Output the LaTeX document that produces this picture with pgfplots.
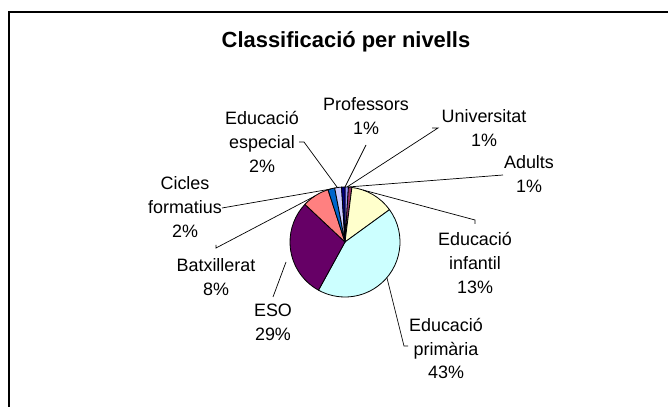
\documentclass[border=0pt]{standalone}
\usepackage{fontspec}
\setmainfont{Liberation Sans}
\usepackage{pgfplots}
\usepackage{pgfplotstable}
\pgfplotsset{compat=1.18}

% slice colours, clockwise from 12 o'clock
\definecolor{c0}{HTML}{9999FF}
\definecolor{c1}{HTML}{993366}
\definecolor{c2}{HTML}{FFFFCC}
\definecolor{c3}{HTML}{CCFFFF}
\definecolor{c4}{HTML}{660066}
\definecolor{c5}{HTML}{FF8080}
\definecolor{c6}{HTML}{0066CC}
\definecolor{c7}{HTML}{CCCCFF}
\definecolor{c8}{HTML}{000080}

\pgfplotstableread{
name pct
Universitat 1
Adults 1
Infantil 13
Primaria 43
ESO 29
Batxillerat 8
Cicles 2
Especial 2
Professors 1
}\piedata

% start / end angle of every slice
\xdef\cum{0}
\pgfplotstableforeachcolumnelement{pct}\of\piedata\as\val{%
  \pgfmathsetmacro\a{90-3.6*\cum}%
  \pgfmathsetmacro\tmp{\cum+\val}\xdef\cum{\tmp}%
  \pgfmathsetmacro\b{90-3.6*\cum}%
  \expandafter\xdef\csname sa\pgfplotstablerow\endcsname{\a}%
  \expandafter\xdef\csname ea\pgfplotstablerow\endcsname{\b}%
}

\begin{document}
\begin{tikzpicture}[lbl/.style={align=center, font=\fontsize{18}{24}\selectfont, inner sep=0pt}]
\begin{axis}[
  scale only axis, width=668bp, height=407bp,
  xmin=0, xmax=668, ymin=0, ymax=407,
  hide axis, clip=false,
]
\fill[white] (axis cs:0,0) rectangle (axis cs:668,407);
\draw[line width=2bp] (axis cs:9,0) -- (axis cs:9,395) -- (axis cs:668,395);

\node[font=\bfseries\fontsize{22}{26}\selectfont] at (axis cs:346,365) {Classificació per nivells};

\pgfplotsinvokeforeach{0,...,8}{
  \filldraw[fill=c#1, draw=black, line width=0.8bp, line join=round]
    (axis cs:345,165) -- ++(\csname sa#1\endcsname:55bp)
    arc[start angle=\csname sa#1\endcsname, end angle=\csname ea#1\endcsname, radius=55bp] -- cycle;
}

% leader lines
\draw[line width=0.7bp] (axis cs:299,265) -- (axis cs:304,265) -- (axis cs:337,220);
\draw[line width=0.7bp] (axis cs:366,262) -- (axis cs:345,220);
\draw[line width=0.7bp] (axis cs:432,279) -- (axis cs:438,279) -- (axis cs:347,220);
\draw[line width=0.7bp] (axis cs:503,232) -- (axis cs:348,220);
\draw[line width=0.7bp] (axis cs:363,217) -- (axis cs:475,187) -- (axis cs:475,183);
\draw[line width=0.7bp] (axis cs:387,129) -- (axis cs:404,61) -- (axis cs:408,61);
\draw[line width=0.7bp] (axis cs:286,145) -- (axis cs:273,110);
\draw[line width=0.7bp] (axis cs:216,162) -- (axis cs:216,159) -- (axis cs:315,211);
\draw[line width=0.7bp] (axis cs:222,199) -- (axis cs:331,218);

% labels
\node[lbl] at (axis cs:366,290.5) {Professors\\1\%};
\node[lbl] at (axis cs:484,278.5) {Universitat\\1\%};
\node[lbl] at (axis cs:529,232.5) {Adults\\1\%};
\node[lbl] at (axis cs:262,265) {Educació\\especial\\2\%};
\node[lbl] at (axis cs:185,200) {Cicles\\formatius\\2\%};
\node[lbl] at (axis cs:216,130) {Batxillerat\\8\%};
\node[lbl] at (axis cs:273,84.5) {ESO\\29\%};
\node[lbl] at (axis cs:475,144) {Educació\\infantil\\13\%};
\node[lbl] at (axis cs:446,58.5) {Educació\\primària\\43\%};
\end{axis}
\pgfresetboundingbox
\path (0,0) rectangle (668bp,407bp);
\end{tikzpicture}
\end{document}
